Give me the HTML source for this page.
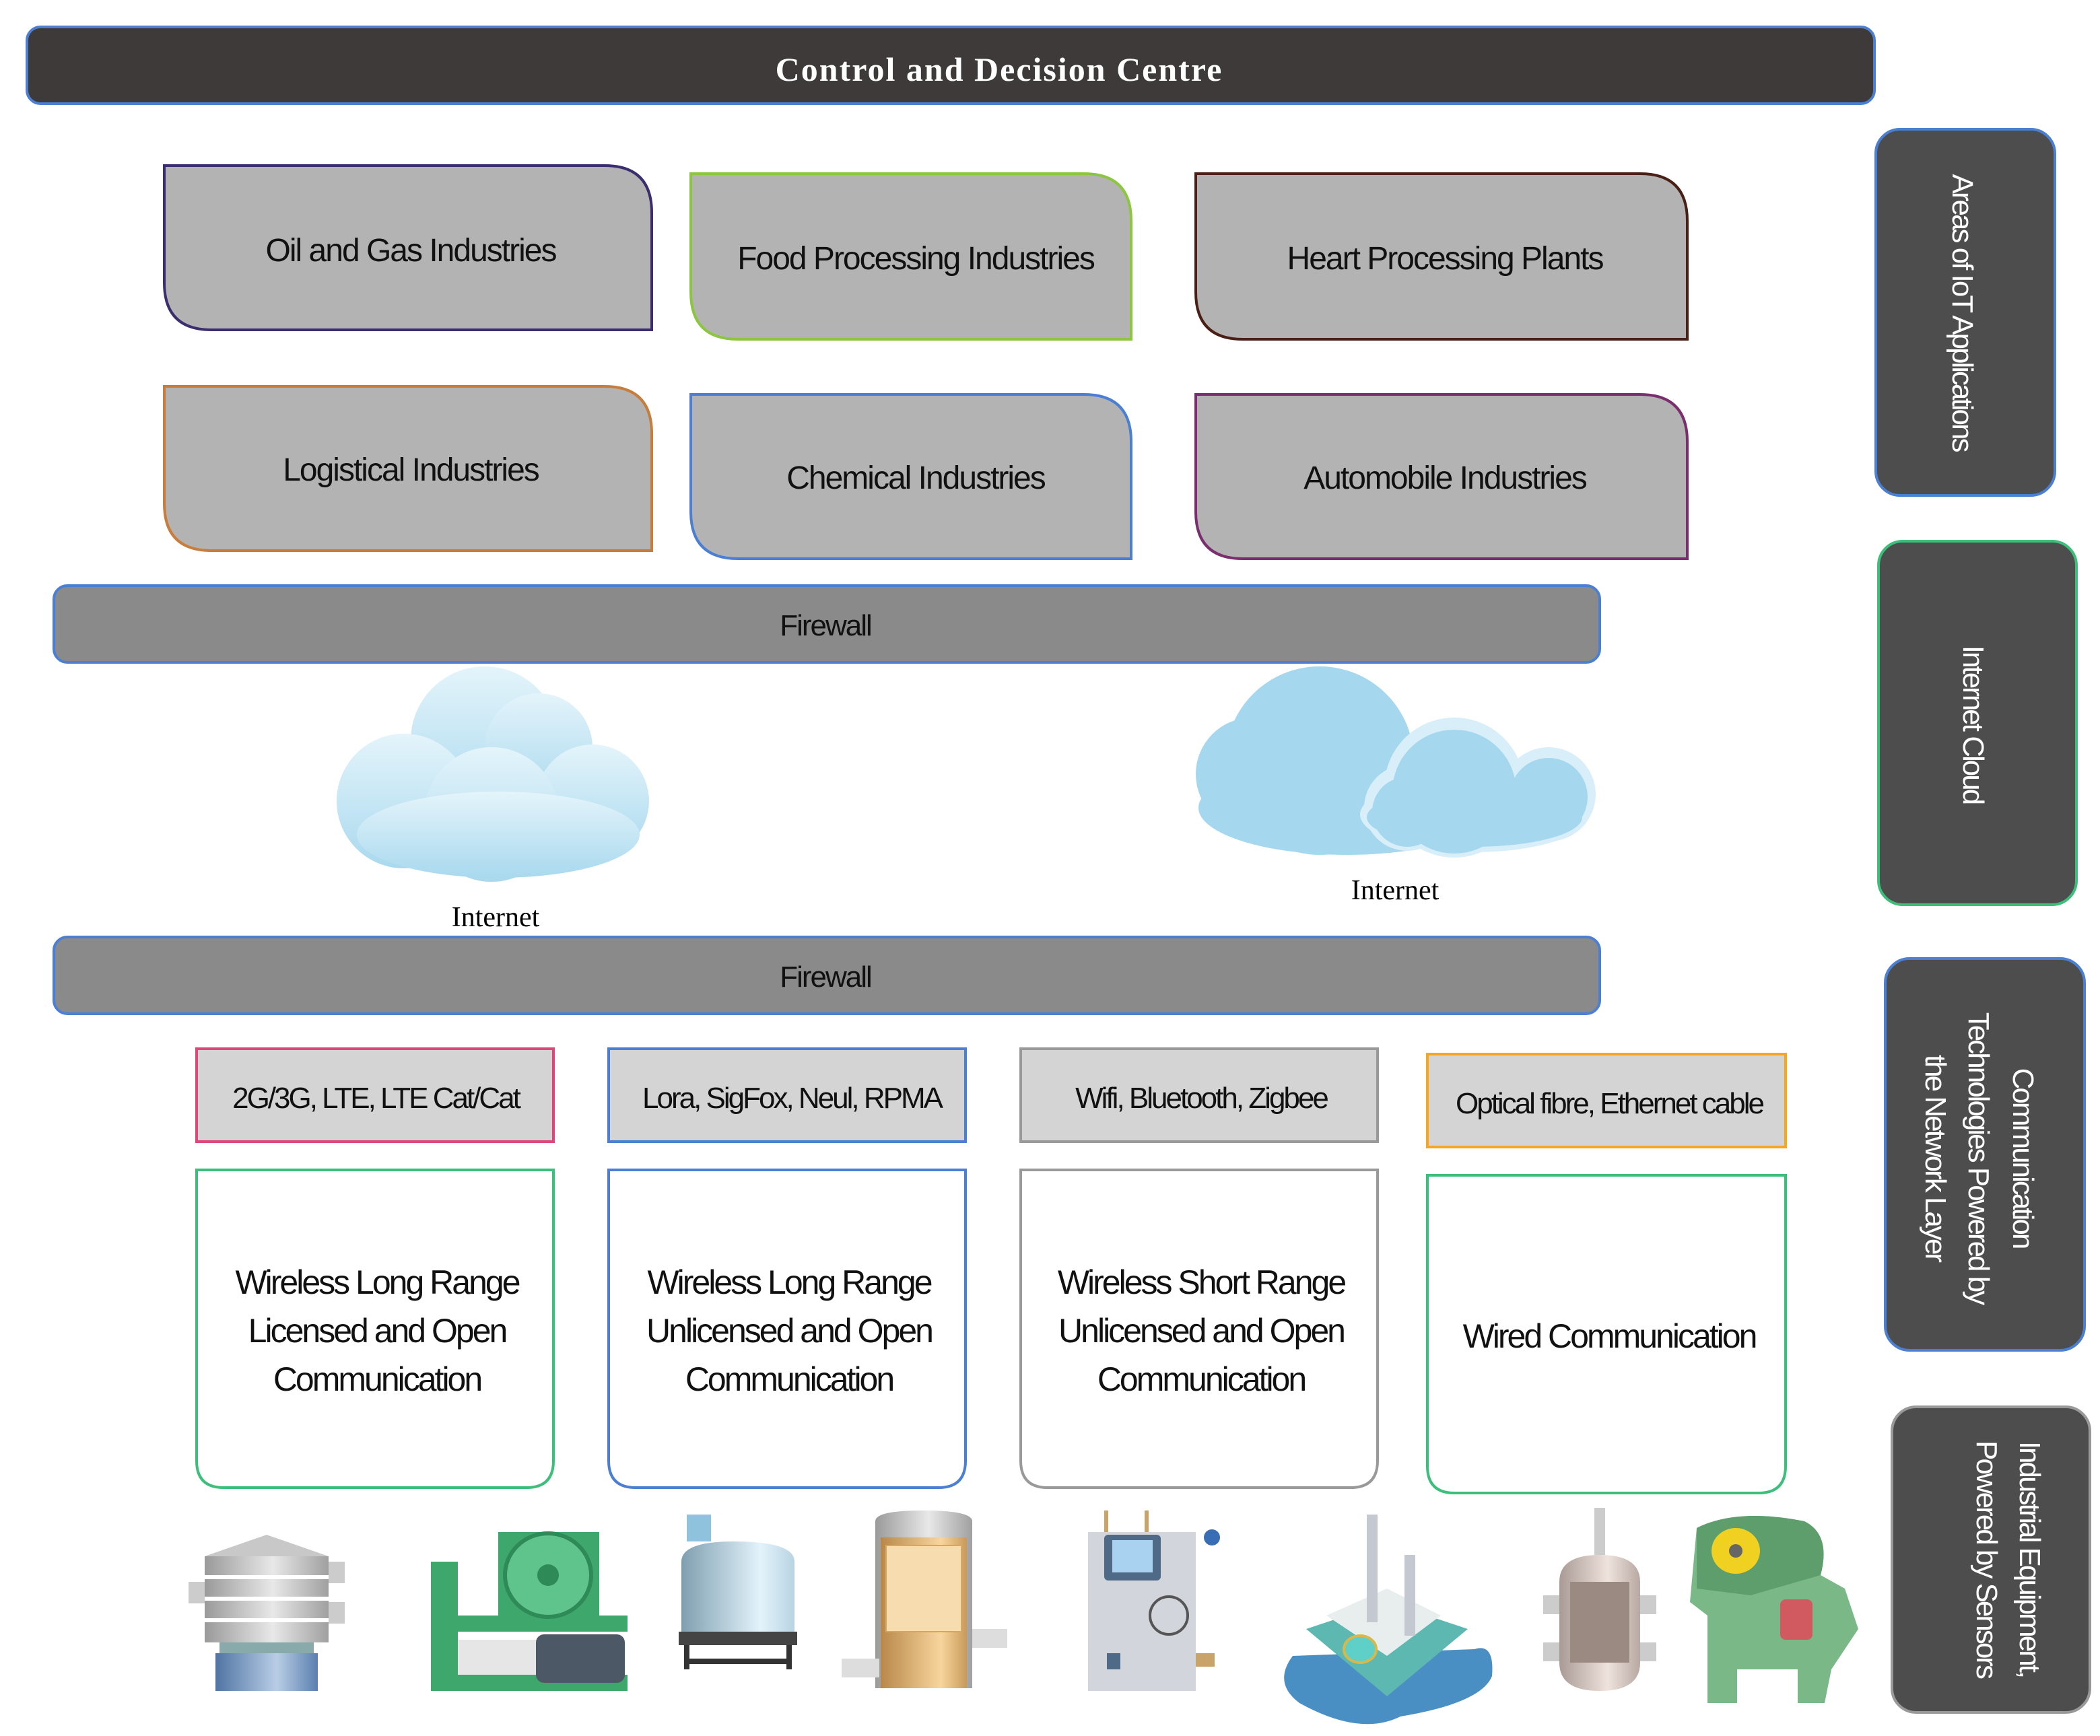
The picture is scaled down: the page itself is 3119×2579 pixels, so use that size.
<!DOCTYPE html>
<html><head><meta charset="utf-8"><style>
html,body{margin:0;padding:0;background:#fff}
svg{display:block}
text{font-family:"Liberation Sans",sans-serif}
</style></head><body>
<svg width="3119" height="2579" viewBox="0 0 1559.5 1289.5" xmlns="http://www.w3.org/2000/svg">
<defs>
<linearGradient id="cl" x1="0" y1="0" x2="0" y2="1"><stop offset="0" stop-color="#e4f4fb"/><stop offset="1" stop-color="#a9d9ee"/></linearGradient>
<linearGradient id="met" x1="0" y1="0" x2="1" y2="0"><stop offset="0" stop-color="#9a9a9a"/><stop offset=".55" stop-color="#e8e8e8"/><stop offset="1" stop-color="#a0a0a0"/></linearGradient>
<linearGradient id="blu" x1="0" y1="0" x2="1" y2="0"><stop offset="0" stop-color="#4f74a3"/><stop offset=".6" stop-color="#b9cde6"/><stop offset="1" stop-color="#5a7fae"/></linearGradient>
<linearGradient id="tank" x1="0" y1="0" x2="1" y2="0"><stop offset="0" stop-color="#7f9fb0"/><stop offset=".7" stop-color="#e3f3fb"/><stop offset="1" stop-color="#b8d4e2"/></linearGradient>
<linearGradient id="gold" x1="0" y1="0" x2="1" y2="0"><stop offset="0" stop-color="#b8884a"/><stop offset=".7" stop-color="#f8d59d"/><stop offset="1" stop-color="#c89a5a"/></linearGradient>
<linearGradient id="pink" x1="0" y1="0" x2="1" y2="0"><stop offset="0" stop-color="#a99a94"/><stop offset=".6" stop-color="#efe3de"/><stop offset="1" stop-color="#b8a8a2"/></linearGradient>
</defs>

<!-- top bar -->
<rect x="20" y="20" width="1372" height="57" rx="10" fill="#3e3a3a" stroke="#4a7fd4" stroke-width="2"/>
<text x="742" y="60" text-anchor="middle" fill="#fff" font-size="25" font-weight="bold" style="font-family:'Liberation Serif',serif" letter-spacing="1">Control and Decision Centre</text>

<!-- industry boxes -->
<g fill="#b3b3b3" stroke-width="2">
<path d="M122,123 H449 Q484,123 484,158 V245 H157 Q122,245 122,210 Z" stroke="#3b2d6e"/>
<path d="M513,129 H805 Q840,129 840,164 V252 H548 Q513,252 513,217 Z" stroke="#8cc63f"/>
<path d="M888,129 H1218 Q1253,129 1253,164 V252 H923 Q888,252 888,217 Z" stroke="#4a2016"/>
<path d="M122,287 H449 Q484,287 484,322 V409 H157 Q122,409 122,374 Z" stroke="#c87d3c"/>
<path d="M513,293 H805 Q840,293 840,328 V415 H548 Q513,415 513,380 Z" stroke="#4a7fd4"/>
<path d="M888,293 H1218 Q1253,293 1253,328 V415 H923 Q888,415 888,380 Z" stroke="#7b2e6e"/>
</g>
<g font-size="24" text-anchor="middle" fill="#111" letter-spacing="-1">
<text x="305" y="194">Oil and Gas Industries</text>
<text x="680" y="200">Food Processing Industries</text>
<text x="1073" y="200">Heart Processing Plants</text>
<text x="305" y="357">Logistical Industries</text>
<text x="680" y="363">Chemical Industries</text>
<text x="1073" y="363">Automobile Industries</text>
</g>

<!-- firewalls -->
<rect x="40" y="435" width="1148" height="57" rx="10" fill="#8a8a8a" stroke="#4a7fd4" stroke-width="2"/>
<text x="613" y="472" text-anchor="middle" font-size="22" fill="#111" letter-spacing="-1">Firewall</text>
<rect x="40" y="696" width="1148" height="57" rx="10" fill="#8a8a8a" stroke="#4a7fd4" stroke-width="2"/>
<text x="613" y="733" text-anchor="middle" font-size="22" fill="#111" letter-spacing="-1">Firewall</text>

<!-- clouds -->
<g fill="url(#cl)">
<circle cx="360" cy="550" r="55"/><circle cx="300" cy="595" r="50"/><circle cx="400" cy="555" r="40"/>
<circle cx="440" cy="595" r="42"/><circle cx="365" cy="605" r="50"/><ellipse cx="370" cy="620" rx="105" ry="32"/>
</g>
<text x="368" y="688" text-anchor="middle" font-size="21" style="font-family:'Liberation Serif',serif">Internet</text>
<g fill="#a5d8ef">
<circle cx="980" cy="565" r="70"/><circle cx="930" cy="575" r="42"/><ellipse cx="1000" cy="600" rx="110" ry="35"/>
</g>
<g fill="#d8eef8"><circle cx="1080" cy="585" r="52"/><circle cx="1045" cy="600" r="32"/><circle cx="1150" cy="590" r="35"/><ellipse cx="1095" cy="605" rx="85" ry="28"/></g>
<g fill="#a5d8ef"><circle cx="1080" cy="588" r="46"/><circle cx="1045" cy="603" r="26"/><circle cx="1150" cy="592" r="29"/><ellipse cx="1095" cy="607" rx="80" ry="22"/></g>
<text x="1036" y="668" text-anchor="middle" font-size="21" style="font-family:'Liberation Serif',serif">Internet</text>

<!-- side labels -->
<rect x="1393" y="96" width="133" height="272" rx="18" fill="#4d4d4d" stroke="#4a7fd4" stroke-width="2"/>
<text transform="translate(1450,232) rotate(90)" text-anchor="middle" font-size="22" fill="#fff" letter-spacing="-1.5">Areas of IoT Applications</text>
<rect x="1395" y="402" width="147" height="270" rx="18" fill="#4d4d4d" stroke="#3cbf7a" stroke-width="2"/>
<text transform="translate(1458,538) rotate(90)" text-anchor="middle" font-size="22" fill="#fff" letter-spacing="-1.5">Internet Cloud</text>
<rect x="1400" y="712" width="148" height="291" rx="18" fill="#4d4d4d" stroke="#4a7fd4" stroke-width="2"/>
<g font-size="22" fill="#fff" text-anchor="middle" letter-spacing="-1.5">
<text transform="translate(1495,860) rotate(90)">Communication</text>
<text transform="translate(1462,860) rotate(90)">Technologies Powered by</text>
<text transform="translate(1430,860) rotate(90)">the Network Layer</text>
</g>
<rect x="1405" y="1045" width="147" height="227" rx="18" fill="#4d4d4d" stroke="#999" stroke-width="2"/>
<g font-size="22" fill="#fff" text-anchor="middle" letter-spacing="-1.5">
<text transform="translate(1500,1158) rotate(90)">Industrial Equipment,</text>
<text transform="translate(1468,1158) rotate(90)">Powered by Sensors</text>
</g>

<!-- tech labels -->
<g fill="#d4d4d4" stroke-width="2">
<rect x="146" y="779" width="265" height="69" stroke="#e0457b"/>
<rect x="452" y="779" width="265" height="69" stroke="#4a7fd4"/>
<rect x="758" y="779" width="265" height="69" stroke="#999"/>
<rect x="1060" y="783" width="266" height="69" stroke="#f5a623"/>
</g>
<g font-size="22" text-anchor="middle" fill="#111" letter-spacing="-1.5">
<text x="279" y="823">2G/3G, LTE, LTE Cat/Cat</text>
<text x="588" y="823">Lora, SigFox, Neul, RPMA</text>
<text x="892" y="823">Wifi, Bluetooth, Zigbee</text>
<text x="1195" y="827">Optical fibre, Ethernet cable</text>
</g>
<g fill="#fff" stroke-width="2">
<path d="M146,869 H411 V1085 Q411,1105 391,1105 H166 Q146,1105 146,1085 Z" stroke="#3cbf7a"/>
<path d="M452,869 H717 V1085 Q717,1105 697,1105 H472 Q452,1105 452,1085 Z" stroke="#4a7fd4"/>
<path d="M758,869 H1023 V1085 Q1023,1105 1003,1105 H778 Q758,1105 758,1085 Z" stroke="#999"/>
<path d="M1060,873 H1326 V1089 Q1326,1109 1306,1109 H1080 Q1060,1109 1060,1089 Z" stroke="#3cbf7a"/>
</g>
<g font-size="25" text-anchor="middle" fill="#111" letter-spacing="-1.5">
<text x="280" y="961">Wireless Long Range</text><text x="280" y="997">Licensed and Open</text><text x="280" y="1033">Communication</text>
<text x="586" y="961">Wireless Long Range</text><text x="586" y="997">Unlicensed and Open</text><text x="586" y="1033">Communication</text>
<text x="892" y="961">Wireless Short Range</text><text x="892" y="997">Unlicensed and Open</text><text x="892" y="1033">Communication</text>
<text x="1195" y="1001">Wired Communication</text>
</g>

<!-- equipment -->
<!-- 1 sieve -->
<g>
<path d="M152,1156 L198,1140 L244,1156 Z" fill="#c8c8c8"/>
<rect x="152" y="1156" width="92" height="64" fill="url(#met)"/>
<rect x="152" y="1170" width="92" height="3" fill="#fff"/><rect x="152" y="1186" width="92" height="3" fill="#fff"/><rect x="152" y="1202" width="92" height="3" fill="#fff"/>
<rect x="140" y="1175" width="12" height="16" fill="#ccc"/><rect x="244" y="1160" width="12" height="16" fill="#ccc"/><rect x="244" y="1190" width="12" height="16" fill="#ccc"/>
<rect x="163" y="1220" width="70" height="10" fill="#8aa"/>
<rect x="160" y="1228" width="76" height="28" fill="url(#blu)"/>
</g>
<!-- 2 green machine -->
<g>
<rect x="320" y="1160" width="20" height="96" fill="#3ea86c"/>
<rect x="320" y="1244" width="146" height="12" fill="#3ea86c"/>
<rect x="340" y="1200" width="126" height="12" fill="#3ea86c"/>
<rect x="370" y="1138" width="75" height="64" fill="#3ea86c"/>
<ellipse cx="407" cy="1170" rx="32" ry="31" fill="#5fc48c" stroke="#2e8a57" stroke-width="3"/>
<circle cx="407" cy="1170" r="8" fill="#2e8a57"/>
<rect x="340" y="1218" width="60" height="26" fill="#e6e6e6"/>
<rect x="398" y="1214" width="66" height="36" rx="6" fill="#4d5866"/>
</g>
<!-- 3 tank -->
<g>
<rect x="510" y="1125" width="18" height="20" fill="#8fc2dc"/>
<path d="M506,1160 Q506,1145 545,1145 Q590,1145 590,1160 V1212 H506 Z" fill="url(#tank)"/>
<rect x="504" y="1212" width="88" height="10" fill="#444"/>
<rect x="508" y="1222" width="4" height="18" fill="#333"/><rect x="584" y="1222" width="4" height="18" fill="#333"/>
<rect x="508" y="1232" width="80" height="4" fill="#333"/>
</g>
<!-- 4 column -->
<g>
<path d="M650,1130 Q650,1122 685,1122 Q722,1122 722,1130 V1254 H650 Z" fill="url(#met)"/>
<rect x="654" y="1142" width="64" height="112" fill="url(#gold)"/>
<rect x="658" y="1148" width="56" height="64" fill="#f6dcae" stroke="#d4a765"/>
<rect x="722" y="1210" width="26" height="14" fill="#ddd"/><rect x="625" y="1232" width="28" height="14" fill="#ddd"/>
</g>
<!-- 5 panel -->
<g>
<rect x="808" y="1138" width="80" height="118" fill="#d2d6dc"/>
<rect x="820" y="1140" width="42" height="34" rx="3" fill="#4e6a86"/><rect x="826" y="1144" width="30" height="24" fill="#a8d2ef"/>
<circle cx="868" cy="1200" r="14" fill="none" stroke="#555" stroke-width="2"/>
<rect x="822" y="1228" width="10" height="12" fill="#4e6a86"/>
<rect x="820" y="1122" width="3" height="16" fill="#c9a46a"/><rect x="850" y="1122" width="3" height="16" fill="#c9a46a"/>
<circle cx="900" cy="1142" r="6" fill="#3a6eb4"/><rect x="888" y="1228" width="14" height="10" fill="#c9a46a"/>
</g>
<!-- 6 oil rig -->
<g>
<path d="M960,1230 Q945,1250 965,1265 Q1010,1290 1040,1275 Q1100,1265 1108,1245 Q1110,1220 1095,1225 Z" fill="#4a8fc4"/>
<path d="M970,1210 L1030,1190 L1090,1210 L1030,1260 Z" fill="#5cb8b0"/>
<path d="M985,1200 L1030,1180 L1070,1200 L1030,1230 Z" fill="#e8eeee"/>
<rect x="1015" y="1125" width="8" height="80" fill="#c4c8d0"/><rect x="1043" y="1155" width="8" height="60" fill="#c4c8d0"/>
<ellipse cx="1010" cy="1225" rx="12" ry="10" fill="#5fd0c8" stroke="#d8b84a" stroke-width="2"/>
</g>
<!-- 7 reactor -->
<g>
<rect x="1184" y="1120" width="8" height="35" fill="#ccc"/>
<path d="M1158,1175 Q1158,1155 1188,1155 Q1218,1155 1218,1175 V1235 Q1218,1256 1188,1256 Q1158,1256 1158,1235 Z" fill="url(#pink)"/>
<rect x="1166" y="1175" width="44" height="60" fill="#9a8a82"/>
<rect x="1146" y="1185" width="12" height="14" fill="#ccc"/><rect x="1218" y="1185" width="12" height="14" fill="#ccc"/>
<rect x="1146" y="1220" width="12" height="14" fill="#ccc"/><rect x="1218" y="1220" width="12" height="14" fill="#ccc"/>
</g>
<!-- 8 press -->
<g>
<path d="M1260,1135 Q1290,1120 1340,1130 Q1360,1140 1352,1170 L1370,1180 L1380,1210 L1360,1240 L1355,1265 H1335 V1240 H1290 V1265 H1268 V1200 L1255,1190 Z" fill="#7ab887"/>
<path d="M1260,1135 Q1290,1120 1340,1130 Q1360,1140 1352,1170 L1300,1185 L1260,1180 Z" fill="#5e9e6c"/>
<ellipse cx="1289" cy="1152" rx="18" ry="17" fill="#f0d020"/><circle cx="1289" cy="1152" r="5" fill="#666"/>
<rect x="1322" y="1188" width="24" height="30" rx="4" fill="#d05a60"/>
</g>
</svg>
</body></html>
